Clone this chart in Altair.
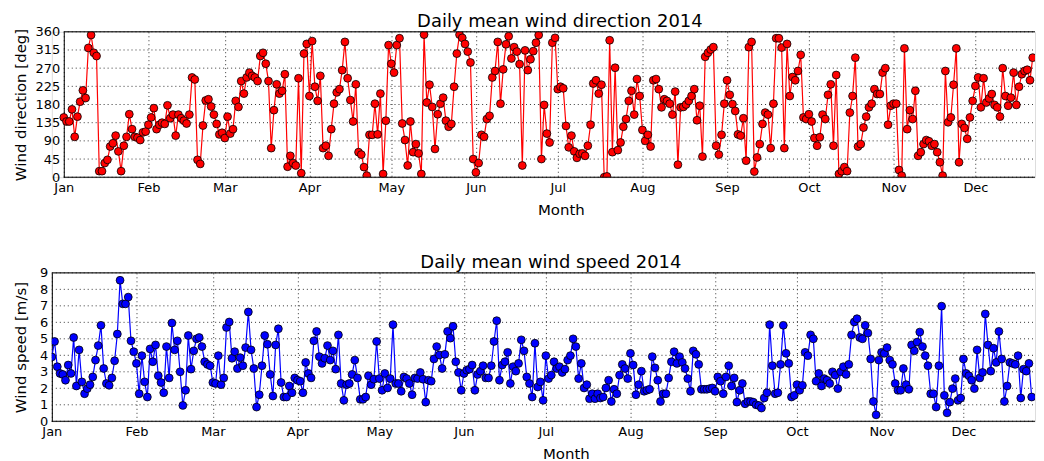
import json
import altair as alt
import pandas as pd

month_names = ["Jan", "Feb", "Mar", "Apr", "May", "Jun", "Jul", "Aug", "Sep", "Oct", "Nov", "Dec"]
month_start_days = [0, 31, 59, 90, 120, 151, 181, 212, 243, 273, 304, 334]
direction_ticks = [0, 45, 90, 135, 180, 225, 270, 315, 360]
speed_ticks = [0, 1, 2, 3, 4, 5, 6, 7, 8, 9]

# daily mean wind direction [deg], from 1 Jan 2014
wind_direction = [
    148, 138, 138, 168, 100, 150, 187, 215, 196, 320, 352, 308, 300, 15, 15, 35, 43, 76, 84, 103,
    64, 15, 78, 100, 156, 119, 100, 98, 92, 111, 113, 130, 148, 171, 119, 130, 135, 132, 178, 146,
    155, 103, 155, 146, 140, 133, 155, 247, 242, 43, 33, 128, 190, 193, 175, 155, 132, 106,
    110, 97, 150, 108, 119, 189, 174, 238, 207, 247, 259, 251, 247, 238, 300, 308, 281, 238, 72, 166,
    230, 207, 214, 255, 26, 53, 35, 29, 245, 10, 306, 330, 201, 337, 224, 189, 251, 72, 78, 53,
    119, 182, 210, 218, 265, 335, 245, 191, 138, 230, 62, 56, 25, 4, 105, 105, 182, 106, 207, 8,
    140, 327, 281, 259, 327, 344, 133, 92, 29, 138, 62, 82, 59, 8, 353, 185, 229, 174, 70, 156,
    182, 197, 140, 125, 132, 224, 306, 353, 345, 330, 311, 284, 45, 12, 35, 105, 100, 144, 152, 247,
    263, 335, 182, 267, 329, 349, 294, 322, 311, 280, 29, 314, 265, 292, 312, 333, 352, 45, 179, 108, 86,
    333, 345, 218, 224, 220, 127, 74, 103, 64, 48, 58, 59, 53, 78, 130, 232, 240, 207, 229, 0,
    2, 339, 62, 271, 67, 86, 125, 144, 189, 214, 155, 243, 201, 117, 90, 105, 76, 240, 243, 218,
    173, 193, 189, 182, 155, 212, 31, 173, 174, 180, 189, 201, 218, 141, 177, 51, 298, 308, 316, 322,
    78, 56, 105, 182, 240, 204, 181, 164, 106, 103, 146, 41, 322, 335, 14, 49, 82, 132, 160, 155,
    72, 182, 344, 344, 321, 72, 330, 201, 248, 240, 263, 303, 148, 144, 156, 138, 97, 78, 99, 155,
    144, 204, 230, 78, 253, 8, 15, 25, 15, 160, 201, 296, 76, 82, 123, 150, 173, 182, 218, 206,
    206, 259, 270, 130, 177, 182, 182, 18, 4, 319, 119, 166, 144, 214, 53, 62, 82, 92, 89, 78,
    82, 62, 37, 4, 263, 136, 148, 229, 319, 37, 132, 122, 95, 148, 189, 226, 247, 173, 245, 185,
    195, 206, 179, 173, 150, 270, 201, 177, 197, 259, 179, 224, 255, 263, 266, 240, 296, 296, 251, 288,
]

# daily mean wind speed [m/s], from 1 Jan 2014
wind_speed = [
    3.9,
    4.84, 3.31, 2.90, 2.84, 2.49, 3.41, 2.90, 5.08, 2.14, 4.33, 2.39, 1.67, 1.98, 2.22, 2.69, 3.71,
    4.59, 5.82, 3.20, 2.29, 2.18, 2.63, 3.67, 5.29, 8.55, 7.12, 7.12, 7.53, 4.88, 4.22, 3.51, 1.67,
    3.98, 2.39, 1.47, 4.39, 3.61, 4.63, 2.76, 2.35, 1.73, 4.53, 2.63, 5.96, 4.33, 4.88, 3.00, 0.96,
    1.88, 5.20, 3.16, 4.27, 5.00, 5.08, 4.53, 3.61, 3.45, 3.37, 2.35, 2.29, 3.98, 2.22,
    2.63, 5.69, 6.02, 3.82, 4.22, 3.20, 3.86, 3.37, 4.47, 6.63, 4.33, 3.20, 0.86, 1.61, 3.37, 5.20,
    4.67, 2.84, 1.53, 4.63, 5.61, 2.35, 1.47, 1.47, 2.14, 1.73, 2.63, 2.49, 2.43, 1.73, 3.57, 2.90,
    2.63, 4.88, 5.45, 3.92, 3.51, 3.82, 4.59, 3.71, 4.27, 3.16, 5.24, 2.29, 1.27, 2.22, 2.29, 2.84,
    3.71, 2.63, 1.33, 1.33, 1.47, 2.76, 2.22, 2.55, 4.84, 2.59, 1.88, 2.90,
    2.02, 2.59, 5.86, 2.29, 2.29, 1.82, 2.69, 2.59, 2.29, 1.61, 2.63, 2.59, 2.96, 2.55, 1.16, 2.49,
    2.43, 3.78, 4.53, 4.02, 3.20, 4.06, 5.45, 5.04, 5.76, 3.61, 2.96, 1.88, 2.90, 3.10, 3.16, 3.41,
    1.88, 2.84, 3.04, 3.37, 2.63, 2.63, 3.37, 4.84, 6.10, 2.49, 3.41, 3.61, 4.18, 2.29, 3.31, 3.04,
    3.51, 4.94, 4.27, 2.69, 2.29, 1.47, 4.73, 2.08, 2.39, 1.27, 3.98,
    2.59, 2.80, 3.61, 3.20, 3.31, 2.96, 3.16, 3.71, 3.98, 5.00, 4.53, 2.59, 3.51, 2.02, 2.22, 1.37,
    1.67, 1.37, 1.67, 1.41, 1.47, 2.02, 2.49, 1.20, 1.94, 1.67, 2.80, 3.45, 3.20, 2.59, 4.12, 3.41,
    1.61, 2.22, 3.04, 1.82, 1.88, 1.94, 3.92, 3.24, 2.49, 1.20, 1.67, 1.67, 2.63, 3.61, 4.22, 3.51,
    3.92, 3.57, 3.20, 2.59, 1.82, 4.27, 4.06, 3.45, 1.94, 1.94, 1.94,
    1.98, 2.02, 1.82, 2.69, 2.43, 1.67, 2.69, 3.37, 2.14, 2.63, 1.16, 1.88, 2.29, 1.06, 1.20, 1.20,
    1.16, 1.00, 0.96, 0.80, 1.41, 1.73, 5.86, 3.37, 1.67, 1.73, 3.45, 5.82, 4.12, 3.51, 1.47, 1.57,
    2.22, 1.88, 2.18, 4.18, 3.98, 5.24, 5.00, 2.43, 2.90, 2.14, 2.59, 2.49, 2.29, 3.00, 2.80, 1.98,
    3.00, 3.31, 2.84, 3.45, 5.24, 6.02, 6.22, 5.08, 5.00, 5.82, 5.35, 3.78, 1.20,
    0.39, 3.71, 4.18, 4.12, 4.47, 3.71, 3.45, 2.29, 1.88, 1.88, 3.20, 2.22, 1.94, 4.63, 4.27, 4.80,
    5.41, 4.53, 3.98, 3.37, 1.67, 1.67, 0.86, 3.37, 6.98, 1.57, 0.51, 1.16, 1.98, 2.59, 1.27, 1.41,
    3.78, 2.90, 2.76, 2.49, 1.98, 4.33, 2.63, 2.96, 6.51, 4.63, 3.04, 4.43, 3.57, 5.45, 3.78, 1.20,
    2.14, 3.57, 3.51, 3.45, 3.98, 1.41, 3.16, 3.04, 3.51, 1.47,
]

dir_df = pd.DataFrame({"day": list(range(len(wind_direction))), "direction": wind_direction})
spd_df = pd.DataFrame({"day": list(range(len(wind_speed))), "speed": wind_speed})

FONT = "DejaVu Sans"
GRID = "#333333"
label_expr = "%s[indexof(%s, datum.value)]" % (json.dumps(month_names), json.dumps(month_start_days))


def x_axis(title_x):
    return alt.Axis(
        values=month_start_days, labelExpr=label_expr, title="Month",
        labelFlush=False, labelOverlap=False, grid=True, ticks=False, domain=False,
        gridDash=[1, 3], gridColor=GRID, gridWidth=1,
        labelColor="black", labelFontSize=13, labelFont=FONT, labelPadding=4,
        titleColor="black", titleFontSize=15, titleFont=FONT, titleFontWeight="normal",
        titlePadding=8, titleX=title_x,
    )


def y_axis(title, values, extent, offset):
    return alt.Axis(
        values=values, title=title, grid=False, ticks=False, offset=offset,
        labelOverlap=False, labelFlush=False,
        domainColor="black", domainWidth=1,
        labelColor="black", labelFontSize=13, labelFont=FONT, labelPadding=4,
        titleColor="black", titleFontSize=15, titleFont=FONT, titleFontWeight="normal",
        titlePadding=5, minExtent=extent, maxExtent=extent,
    )


def panel(df, field, color, title, title_dx, ytitle, yticks, ydomain,
          xmin, xmax, width, height, extent, yoffset, toff, month_title_x):
    xscale = alt.Scale(domain=[xmin, xmax], nice=False, zero=False)
    yscale = alt.Scale(domain=ydomain, nice=False)
    xax = x_axis(month_title_x)
    yax = y_axis(ytitle, yticks, extent, yoffset)
    x_start = alt.XDatum(0, type="quantitative", scale=xscale, axis=xax)
    x_end = alt.X2Datum(xmax)

    grid = alt.Chart(pd.DataFrame({"v": yticks})).mark_rule(
        color=GRID, strokeDash=[1, 3], strokeWidth=1
    ).encode(y=alt.Y("v:Q", scale=yscale, axis=yax), x=x_start, x2=x_end)

    base = alt.Chart(df).transform_filter(alt.datum.day <= xmax).encode(
        x=alt.X("day:Q", scale=xscale, axis=xax),
        y=alt.Y(field + ":Q", scale=yscale, axis=yax),
    )
    line = base.mark_line(color=color, strokeWidth=1.2, clip=True)
    pts = base.mark_circle(fill=color, stroke="black", strokeWidth=0.8, size=62, opacity=1, clip=True)

    spines = alt.Chart(pd.DataFrame({"v": [ydomain[0], ydomain[1]]})).mark_rule(
        color="black", strokeWidth=1
    ).encode(y=alt.Y("v:Q", scale=yscale, axis=yax), x=x_start, x2=x_end)

    return alt.layer(grid, line, pts, spines).properties(
        width=width, height=height,
        title=alt.Title(title, fontSize=18, fontWeight="normal", font=FONT, color="black",
                        offset=toff, frame="group", dx=title_dx),
    )


PX_PER_DAY = 2.74
SHIFT = 12  # the upper plot starts further right than the lower one
PLOT_W = 987

top_panel = panel(dir_df, "direction", "#ff0000", "Daily mean wind direction 2014", 16.5,
                  "Wind direction [deg]", direction_ticks, [0, 360],
                  -SHIFT / PX_PER_DAY, (PLOT_W - SHIFT) / PX_PER_DAY, PLOT_W, 146, 30, -SHIFT, -5, 511)
bottom_panel = panel(spd_df, "speed", "#0000ff", "Daily mean wind speed 2014", 7.5,
                     "Wind speed [m/s]", speed_ticks, [0, 9],
                     0, PLOT_W / PX_PER_DAY, PLOT_W, 149, 18, 0, -5, 516)

chart = alt.vconcat(top_panel, bottom_panel, spacing=35).properties(
    padding={"left": 5, "top": 3, "right": 0, "bottom": 0}
).configure_view(stroke=None).configure(background="white")

chart.save("out.html", embed_options={"renderer": "svg", "actions": False})
